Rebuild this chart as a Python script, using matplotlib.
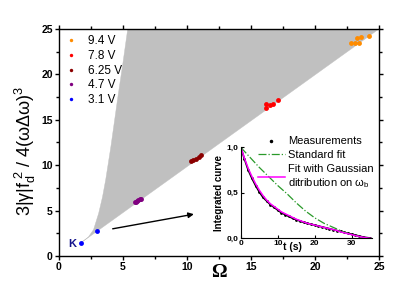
import numpy as np
import matplotlib
matplotlib.use('Agg')
import matplotlib.pyplot as plt
from matplotlib.lines import Line2D
from matplotlib.ticker import MultipleLocator

plt.rcParams['font.family'] = ['Liberation Sans', 'DejaVu Sans']
plt.rcParams['mathtext.fontset'] = 'custom'
plt.rcParams['mathtext.rm'] = 'Liberation Sans'
plt.rcParams['mathtext.it'] = 'Liberation Sans'

#-----main data (Omega, 3|g|fd^2/4(w dw)^3)-----
labels = ['9.4 V', '7.8 V', '6.25 V', '4.7 V', '3.1 V']
colors = ['#ff8c00', '#ff0000', '#8b0000', '#800080', '#0000ff']
om_94 = [22.8, 23.1, 23.3, 23.4, 23.6, 24.2]
y_94 = [23.5, 23.5, 24.0, 23.5, 24.1, 24.2]
om_78 = [16.15, 16.2, 16.5, 16.7, 17.1]
y_78 = [16.3, 16.7, 16.6, 16.7, 17.2]
om_625 = [10.35, 10.5, 10.7, 10.9, 11.1]
y_625 = [10.45, 10.55, 10.7, 10.85, 11.1]
om_47 = [5.9, 6.0, 6.1, 6.2, 6.3, 6.4]
y_47 = [5.9, 6.0, 6.05, 6.15, 6.25, 6.3]
om_31 = [1.72, 2.94]
y_31 = [1.46, 2.79]

# grey region: upper boundary, then along top to (25,25), closes back to K
region_x = [1.72, 2.3, 2.7, 3.1, 3.4, 3.65, 3.85, 4.05, 4.25, 4.6, 5.0, 5.37, 25.0]
region_y = [1.46, 2.1, 2.9, 4.7, 6.5, 8.4, 10.2, 12.0, 14.0, 17.5, 21.3, 25.0, 25.0]

#-----inset data-----
t_meas = list(range(36))
meas = [1.0, 0.87, 0.75, 0.66, 0.58, 0.51, 0.45, 0.41, 0.37, 0.34, 0.31, 0.28,
        0.26, 0.24, 0.22, 0.205, 0.19, 0.175, 0.165, 0.155, 0.145, 0.135, 0.125,
        0.115, 0.105, 0.095, 0.085, 0.075, 0.065, 0.055, 0.045, 0.035, 0.025,
        0.015, 0.008, 0.003]
gauss = [1.0, 0.88, 0.77, 0.68, 0.60, 0.53, 0.47, 0.42, 0.38, 0.35, 0.32, 0.29,
         0.27, 0.25, 0.23, 0.21, 0.195, 0.18, 0.165, 0.155, 0.145, 0.135, 0.125,
         0.115, 0.105, 0.095, 0.085, 0.07, 0.06, 0.05, 0.04, 0.03, 0.02, 0.012,
         0.005, 0.0]
t_std = [0, 2.5, 5, 7.5, 10, 12.5, 15, 17.5, 20, 22.5, 25, 27.5, 30, 32.5, 34]
std = [1.0, 0.89, 0.78, 0.68, 0.58, 0.49, 0.39, 0.30, 0.225, 0.165, 0.12, 0.075,
       0.04, 0.015, 0.0]

f = plt.figure(figsize=(4, 2.84), dpi=100)
ax = f.add_axes([0.1475, 0.0986, 0.8, 0.7994])

ax.fill(region_x, region_y, color='#c0c0c0', lw=0.3, ec='#c0c0c0', zorder=1)

groups = [(om_94, y_94), (om_78, y_78), (om_625, y_625), (om_47, y_47), (om_31, y_31)]
for (xx, yy), c, lab in zip(groups, colors, labels):
    ax.plot(xx, yy, 'o', ms=3.5, mec='none', color=c, label=lab, zorder=3)

ax.annotate('', xy=(10.75, 4.66), xytext=(3.98, 2.94),
            arrowprops=dict(arrowstyle='-|>', color='black', lw=1, mutation_scale=8))
ax.text(1.05, 1.27, 'K', color='#14148c', fontsize=8, fontweight='bold',
        ha='center', va='center')

ax.set_xlim(0, 25)
ax.set_ylim(0, 25)
ax.xaxis.set_major_locator(MultipleLocator(5))
ax.yaxis.set_major_locator(MultipleLocator(5))
ax.xaxis.set_minor_locator(MultipleLocator(2.5))
ax.yaxis.set_minor_locator(MultipleLocator(2.5))
ax.tick_params(which='both', direction='out', top=True, right=True,
               labelsize=7.5, width=1, pad=1.5)
ax.tick_params(which='major', length=3)
ax.tick_params(which='minor', length=2)
for lb in ax.get_xticklabels() + ax.get_yticklabels():
    lb.set_fontweight('bold')
for sp in ax.spines.values():
    sp.set_linewidth(1)

f.text(0.5475, 0.04, 'Ω', fontsize=14, fontweight='bold',
       family='Liberation Serif', ha='center', va='center')
f.text(0.063, 0.47, r'3|$\gamma$|f$_\mathrm{d}^{\ 2}$ / 4($\omega\Delta\omega$)$^\mathrm{3}$',
       rotation=90, fontsize=13, ha='center', va='center')

ax.legend(loc='upper left', frameon=False, fontsize=8.5, handlelength=1,
          handletextpad=0.9, labelspacing=0.22, borderaxespad=0.3, markerscale=0.7,
          borderpad=0.25)

#-----inset-----
ai = f.add_axes([0.602, 0.161, 0.328, 0.32])
ai.plot(t_meas, meas, color='black', lw=1.2, marker='.', ms=2)
ai.plot(t_std, std, color='#2a9a2a', lw=0.9, ls='-.')
ai.plot(t_meas, gauss, color='#ff00ff', lw=1.1)
ai.set_xlim(0, 35.5)
ai.set_ylim(0, 1.0)
ai.spines['top'].set_visible(False)
ai.spines['right'].set_visible(False)
ai.set_xticks([0, 10, 20, 30])
ai.set_yticks([0, 0.5, 1.0])
ai.set_yticklabels(['0,0', '0,5', '1,0'])
ai.tick_params(direction='in', length=2, labelsize=6, pad=1.5)
for lb in ai.get_xticklabels() + ai.get_yticklabels():
    lb.set_fontweight('bold')
ai.set_ylabel('Integrated curve', fontsize=7, fontweight='bold', labelpad=2)
ai.text(14.1, -0.1, 't (s)', fontsize=7.5, fontweight='bold', ha='center', va='center')

h = [Line2D([], [], color='black', marker='.', ms=3, ls='none'),
     Line2D([], [], color='#2a9a2a', lw=0.9, ls='-.'),
     Line2D([], [], color='#ff00ff', lw=1.1)]
ai.legend(h, ['Measurements', 'Standard fit', 'Fit with Gaussian\nditribution on $\\omega_\\mathrm{b}$'],
          loc='upper left', bbox_to_anchor=(0.13, 1.12), frameon=False, fontsize=8,
          handlelength=2.4, handletextpad=0.3, labelspacing=0.35, borderpad=0,
          borderaxespad=0)

f.savefig('out.png', dpi=100)
